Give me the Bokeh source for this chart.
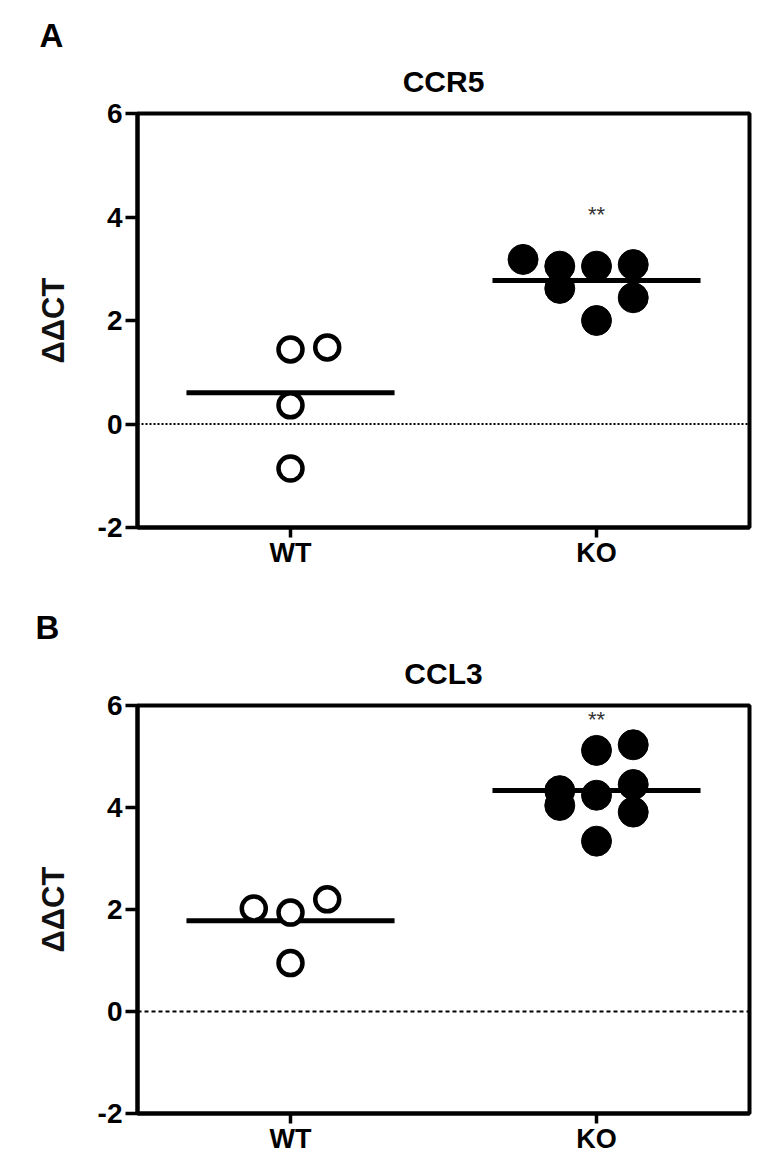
import numpy as np
from bokeh.plotting import figure
from bokeh.models import Range1d, FixedTicker, Span, Title
from bokeh.layouts import column
from bokeh.embed import file_html
from bokeh.resources import INLINE

# ---------------- data ----------------
categories = ["WT", "KO"]
y_ticks = [-2, 0, 2, 4, 6]

ccr5_wt = [1.44, 1.48, 0.36, -0.86]
ccr5_wt_jitter = [0.0, 0.12, 0.0, 0.0]
ccr5_ko = [3.18, 3.05, 2.62, 3.05, 2.00, 3.08, 2.44]
ccr5_ko_jitter = [-0.24, -0.12, -0.12, 0.0, 0.0, 0.12, 0.12]

ccl3_wt = [2.02, 1.94, 0.95, 2.20]
ccl3_wt_jitter = [-0.12, 0.0, 0.0, 0.12]
ccl3_ko = [4.33, 4.04, 5.12, 4.24, 3.34, 5.23, 4.45, 3.91]
ccl3_ko_jitter = [-0.12, -0.12, 0.0, 0.0, 0.0, 0.12, 0.12, 0.12]

sig_text = "**"
ccr5_sig_y = 4.05
ccl3_sig_y = 5.72

FONT = "Liberation Sans, Arial, sans-serif"


def make_panel(letter, title, wt, wt_j, ko, ko_j, sig_y, zero_dash, zero_w,
               width, height, b_top, b_bottom, b_left, b_right,
               letter_offset, title_offset):
    p = figure(width=width, height=height,
               x_range=Range1d(0.5, 2.5), y_range=Range1d(-2, 6),
               output_backend="svg", toolbar_location=None,
               min_border_top=b_top, min_border_bottom=b_bottom,
               min_border_left=b_left, min_border_right=b_right)
    p.grid.visible = False
    p.background_fill_color = "white"
    p.border_fill_color = "white"
    p.outline_line_color = "black"
    p.outline_line_width = 4
    p.outline_line_alpha = 1.0

    # panel letter as the main title, chart name as an extra title
    p.title.text = letter
    p.title.align = "left"
    p.title.offset = letter_offset
    p.title.text_font = FONT
    p.title.text_font_size = "33px"
    p.title.text_font_style = "bold"
    p.title.text_color = "black"
    p.title.standoff = -14
    p.add_layout(Title(text=title, align="center", offset=title_offset,
                       text_font=FONT, text_font_size="30px",
                       text_font_style="bold", text_color="black",
                       standoff=32), "above")

    # axes
    p.yaxis.ticker = FixedTicker(ticks=y_ticks)
    p.yaxis.major_label_overrides = {t: str(t) for t in y_ticks}
    p.xaxis.ticker = FixedTicker(ticks=[1, 2])
    p.xaxis.major_label_overrides = {i + 1: c for i, c in enumerate(categories)}
    for ax in (p.xaxis, p.yaxis):
        ax.axis_line_width = 4
        ax.axis_line_color = "black"
        ax.major_tick_line_width = 3.5
        ax.major_tick_line_color = "black"
        ax.major_tick_in = 0
        ax.minor_tick_line_color = None
        ax.major_label_text_font = FONT
        ax.major_label_text_font_style = "bold"
        ax.major_label_text_color = "black"
    p.yaxis.major_tick_out = 12
    p.xaxis.major_tick_out = 10
    p.yaxis.major_label_text_font_size = "28px"
    p.yaxis.major_label_standoff = 3
    p.xaxis.major_label_text_font_size = "27px"
    p.xaxis.major_label_standoff = 0
    p.yaxis.axis_label = "\u0394\u0394CT"
    p.yaxis.axis_label_text_font = FONT
    p.yaxis.axis_label_text_font_size = "31px"
    p.yaxis.axis_label_text_font_style = "bold"
    p.yaxis.axis_label_text_color = "#111111"
    p.yaxis.axis_label_standoff = 24

    # zero reference line
    p.add_layout(Span(location=0, dimension="width", line_color="black",
                      line_width=zero_w, line_dash=zero_dash))

    # mean lines
    means = [float(np.mean(wt)), float(np.mean(ko))]
    pos = [1, 2]
    p.segment(x0=[x - 0.34 for x in pos], x1=[x + 0.34 for x in pos],
              y0=means, y1=means, line_color="black", line_width=5)

    # points
    p.scatter(x=[1 + j for j in wt_j], y=wt, size=24, marker="circle",
              fill_color="white", line_color="black", line_width=4.5)
    p.scatter(x=[2 + j for j in ko_j], y=ko, size=30, marker="circle",
              fill_color="black", line_color="black", line_width=1)

    # significance
    p.text(x=[2], y=[sig_y], text=[sig_text], text_align="center",
           text_baseline="middle", text_font_size="22px", text_color="#333333")
    return p


pa = make_panel("A", "CCR5", ccr5_wt, ccr5_wt_jitter, ccr5_ko, ccr5_ko_jitter,
                ccr5_sig_y, "2 2", 1.8, width=762, height=590, b_top=113,
                b_bottom=63, b_left=133, b_right=6,
                letter_offset=-98, title_offset=-33)
pb = make_panel("B", "CCL3", ccl3_wt, ccl3_wt_jitter, ccl3_ko, ccl3_ko_jitter,
                ccl3_sig_y, "4 3", 2, width=762, height=566, b_top=115,
                b_bottom=43, b_left=137, b_right=13,
                letter_offset=-102, title_offset=-38)

layout = column(pa, pb, spacing=0)
open("out.html", "w").write(file_html(layout, INLINE))
